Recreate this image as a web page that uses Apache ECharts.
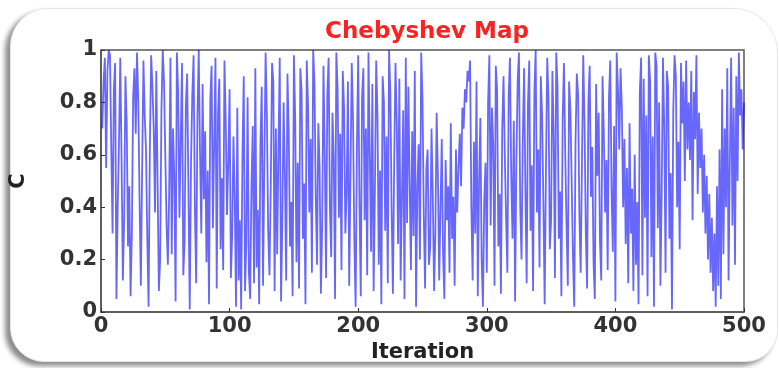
<!DOCTYPE html>
<html>
<head>
<meta charset="utf-8">
<title>Chebyshev Map</title>
<script src="https://cdn.jsdelivr.net/npm/echarts@6/dist/echarts.min.js"></script>
<style>
  html, body { margin: 0; padding: 0; background: #ffffff; }
  #card {
    position: absolute; left: 10px; top: 8px; width: 766px; height: 352px;
    background: #fff; border-radius: 38px 44px 32px 34px;
    border: 1px solid #e6e6e6;
    box-shadow: -5px 4px 5px rgba(0, 0, 0, 0.45);
  }
  #chart { position: absolute; left: 0; top: 0; width: 779px; height: 368px; }
</style>
</head>
<body>
<div id="card"></div>
<div id="chart"></div>
<script>
// chaotic sequence C(k) (k = 1..500)
const values = [
  0.70, 0.88, 0.97, 0.55, 0.92, 1.00, 0.98, 0.62, 0.30, 0.85, 0.95, 0.05, 0.40, 0.65, 0.97, 0.58, 0.12, 0.35, 0.90, 0.72, 0.25, 0.48, 0.06, 0.30, 0.82,
  0.93, 0.68, 0.99, 0.80, 0.42, 0.10, 0.55, 0.96, 0.75, 0.62, 0.28, 0.02, 0.63, 0.98, 0.86, 0.70, 0.38, 0.92, 0.50, 0.08, 0.20, 0.77, 1.00, 0.88, 0.60,
  0.33, 0.18, 0.45, 0.97, 0.22, 0.70, 0.52, 0.04, 0.99, 0.84, 0.36, 0.66, 0.95, 0.14, 0.27, 0.79, 0.91, 0.46, 0.01, 0.57, 0.83, 0.98, 0.40, 0.11, 0.74,
  1.00, 0.61, 0.30, 0.87, 0.43, 0.69, 0.19, 0.54, 0.03, 0.81, 0.94, 0.32, 0.64, 0.97, 0.09, 0.76, 0.89, 0.24, 0.51, 0.16, 0.96, 0.73, 0.37, 0.58, 0.85,
  0.13, 0.29, 0.67, 0.44, 0.02, 0.78, 0.12, 0.35, 0.01, 0.60, 0.90, 0.08, 0.26, 0.82, 0.15, 0.05, 0.48, 0.71, 0.11, 0.93, 0.17, 0.39, 0.03, 0.65, 0.86,
  0.10, 0.56, 0.99, 0.75, 0.31, 0.14, 0.47, 0.95, 0.88, 0.08, 0.70, 0.22, 0.62, 0.97, 0.04, 0.34, 0.80, 0.53, 0.12, 0.91, 0.68, 0.25, 0.42, 0.06, 0.98,
  0.74, 0.19, 0.57, 0.09, 0.93, 0.84, 0.28, 0.49, 0.03, 0.96, 0.79, 0.38, 0.66, 0.15, 1.00, 0.87, 0.44, 0.18, 0.72, 0.55, 0.07, 0.33, 0.94, 0.60, 0.13,
  0.83, 0.97, 0.40, 0.21, 0.76, 0.59, 0.05, 0.99, 0.85, 0.36, 0.68, 0.16, 0.92, 0.78, 0.30, 0.45, 0.88, 0.10, 0.52, 0.95, 0.73, 0.27, 0.02, 0.63, 0.98,
  0.41, 0.06, 0.82, 0.93, 0.35, 0.70, 0.14, 0.99, 0.61, 0.23, 0.87, 0.08, 0.46, 0.96, 0.75, 0.18, 0.54, 0.03, 0.90, 0.80, 0.31, 0.67, 0.11, 1.00, 0.84,
  0.39, 0.07, 0.58, 0.95, 0.72, 0.26, 0.89, 0.12, 0.43, 0.77, 0.05, 0.97, 0.34, 0.86, 0.50, 0.16, 0.69, 0.29, 0.92, 0.02, 0.48, 0.64, 0.20, 0.99, 0.81,
  0.37, 0.09, 0.55, 0.62, 0.18, 0.25, 0.70, 0.45, 0.08, 0.30, 0.76, 0.52, 0.12, 0.40, 0.66, 0.22, 0.05, 0.58, 0.35, 0.48, 0.15, 0.72, 0.28, 0.44, 0.10,
  0.62, 0.38, 0.55, 0.68, 0.48, 0.78, 0.70, 0.85, 0.80, 0.92, 0.88, 0.96, 0.40, 0.12, 0.65, 0.30, 0.88, 0.06, 0.50, 0.74, 0.20, 0.02, 0.42, 0.57, 0.15,
  0.80, 0.98, 0.33, 0.78, 0.64, 0.10, 0.94, 0.85, 0.25, 0.45, 0.07, 0.70, 0.90, 0.60, 0.36, 0.15, 0.82, 0.97, 0.52, 0.28, 0.73, 0.04, 0.58, 0.88, 0.99,
  0.40, 0.20, 0.66, 0.93, 0.47, 0.11, 0.79, 0.96, 0.31, 0.56, 0.08, 0.84, 1.00, 0.38, 0.62, 0.17, 0.90, 0.75, 0.42, 0.03, 0.54, 0.97, 0.81, 0.24, 0.35,
  0.92, 0.69, 0.13, 0.99, 0.86, 0.28, 0.46, 0.06, 0.74, 0.95, 0.60, 0.33, 0.10, 0.88, 0.77, 0.50, 0.21, 0.02, 0.65, 0.91, 0.83, 0.37, 0.15, 0.57, 0.98,
  0.72, 0.30, 0.09, 0.80, 0.94, 0.44, 0.63, 0.19, 0.05, 0.87, 0.52, 0.76, 0.27, 0.12, 0.90, 0.68, 0.38, 0.58, 0.16, 0.82, 0.96, 0.47, 0.23, 0.71, 0.04,
  0.99, 0.85, 0.62, 0.93, 0.78, 0.40, 0.66, 0.26, 0.55, 0.11, 0.72, 0.30, 0.47, 0.08, 0.60, 0.18, 0.42, 0.03, 0.84, 0.97, 0.14, 0.89, 0.36, 0.75, 0.06,
  0.98, 0.88, 0.21, 0.67, 0.02, 0.99, 0.94, 0.32, 0.80, 0.10, 0.45, 0.97, 0.70, 0.15, 0.92, 0.86, 0.28, 0.53, 0.01, 0.77, 0.98, 0.90, 0.40, 0.65, 0.24,
  0.95, 0.72, 0.88, 0.50, 0.96, 0.62, 0.80, 0.58, 0.92, 0.35, 0.84, 0.66, 0.98, 0.45, 0.76, 0.55, 0.70, 0.38, 0.60, 0.30, 0.52, 0.20, 0.45, 0.15, 0.36,
  0.08, 0.30, 0.02, 0.48, 0.10, 0.62, 0.05, 0.85, 0.22, 0.70, 0.40, 0.93, 0.12, 0.58, 0.97, 0.33, 0.78, 0.18, 0.90, 0.50, 0.99, 0.75, 0.85, 0.62, 0.80
]
const xTicks = [0, 100, 200, 300, 400, 500]
const yTicks = [0, 0.2, 0.4, 0.6, 0.8, 1]

const chart = echarts.init(document.getElementById('chart'))
const labelFont = { fontFamily: 'DejaVu Sans', fontWeight: 'bold', fontSize: 21, color: '#333' }

chart.setOption({
  animation: false,
  title: {
    text: 'Chebyshev Map',
    left: 422, top: 16, textAlign: 'center',
    textStyle: { color: '#ff2020', fontFamily: 'DejaVu Sans', fontWeight: 'bold', fontSize: 23 },
  },
  grid: { left: 101, right: 35, top: 50, bottom: 56 },
  xAxis: {
    type: 'value', min: xTicks[0], max: xTicks[xTicks.length - 1], interval: 100,
    name: 'Iteration', nameLocation: 'middle', nameGap: 23,
    nameTextStyle: { ...labelFont, color: '#222', fontSize: 21 },
    axisLine: { lineStyle: { color: '#555', width: 1.5 } },
    axisTick: { inside: true, length: 4, lineStyle: { color: '#333' } },
    axisLabel: { ...labelFont, margin: 4 },
    splitLine: { show: false },
  },
  yAxis: {
    type: 'value', min: yTicks[0], max: yTicks[yTicks.length - 1], interval: 0.2,
    name: 'C', nameLocation: 'middle', nameGap: 72, nameRotate: 90,
    nameTextStyle: { ...labelFont, color: '#222', fontSize: 21 },
    axisLine: { lineStyle: { color: '#555', width: 1.5 } },
    axisTick: { inside: true, length: 4, lineStyle: { color: '#333' } },
    axisLabel: { ...labelFont, margin: 4, formatter: (v) => String(+v.toFixed(1)) },
    splitLine: { show: false },
  },
  series: [{
    type: 'line',
    data: values.map((v, i) => [i + 1, v]),
    showSymbol: false,
    lineStyle: { color: 'rgba(10, 10, 250, 0.62)', width: 1.8 },
  }],
  graphic: [{
    type: 'rect', silent: true,
    shape: { x: 101, y: 50, width: 643, height: 262 },
    style: { fill: 'none', stroke: '#555', lineWidth: 1.5 },
  }],
})
</script>
</body>
</html>
